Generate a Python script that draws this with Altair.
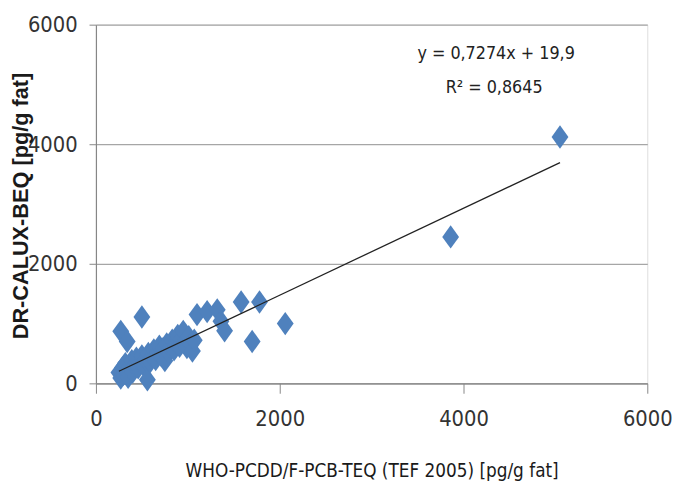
import altair as alt
import pandas as pd

# Measured values (pg/g fat)
teq_x = [250, 270, 290, 300, 320, 340, 350, 370, 390, 400, 420, 440, 460, 480,
         500, 520, 540, 560, 570, 590, 610, 630, 650, 670, 690, 710, 730, 750,
         770, 790, 810, 830, 850, 870, 890, 910, 930, 950, 970, 990, 1010, 1030,
         1050, 1070,
         270, 340, 500, 1100, 1210, 1320, 1360, 1400, 1580, 1780, 1700, 2060,
         3860, 5050]
calux_y = [180, 90, 260, 150, 330, 200, 100, 280, 380, 190, 300, 420, 260, 350,
           460, 300, 400, 60, 500, 360, 450, 560, 400, 520, 620, 470, 580, 380,
           660, 520, 600, 720, 560, 680, 800, 620, 740, 870, 700, 600, 780, 660,
           540, 720,
           870, 700, 1110, 1150, 1200, 1230, 1040, 880, 1360, 1360, 700, 1000,
           2450, 4120]

# Trendline from the chart's equation
slope = 0.7274
intercept = 19.9
trend_x = [min(teq_x), max(teq_x)]

eq_lines = ["y = 0,7274x + 19,9", "R\u00b2 = 0,8645"]

pts = pd.DataFrame({"x": teq_x, "y": calux_y})
trend = pd.DataFrame({"x": trend_x})

FONT = "DejaVu Sans Condensed, Liberation Sans Narrow, Lato, sans-serif"

xscale = alt.Scale(domain=[0, 6000], nice=False)
yscale = alt.Scale(domain=[0, 6000], nice=False)

points = alt.Chart(pts).mark_point(
    shape="M0,-1L0.72,0L0,1L-0.72,0Z", filled=True, size=560,
    color="#4F81BD", opacity=1
).encode(
    x=alt.X("x:Q", scale=xscale, axis=alt.Axis(
        values=[0, 2000, 4000, 6000], grid=False, format="d",
        title="WHO-PCDD/F-PCB-TEQ (TEF 2005) [pg/g fat]",
        titleFont=FONT, titleFontSize=19, titleFontWeight="normal",
        titleColor="#1a1a1a", titleY=88, titleBaseline="middle",
        labelFont=FONT, labelFontSize=22, labelColor="#333333",
        labelPadding=16, tickSize=10, tickColor="#868686",
        domainColor="#868686", domainWidth=1.2, labelFlush=False)),
    y=alt.Y("y:Q", scale=yscale, axis=alt.Axis(
        values=[0, 2000, 4000, 6000], grid=True, format="d",
        gridColor="#a6a6a6", gridWidth=1.3,
        title="DR-CALUX-BEQ [pg/g fat]",
        titleFont="Liberation Sans, Arial, sans-serif", titleFontSize=22,
        titleFontWeight="bold", titleColor="#1a1a1a",
        titleAngle=270, titleX=-76, titleY=183, titleAlign="center",
        titleBaseline="middle",
        labelFont=FONT, labelFontSize=22, labelColor="#333333",
        labelPadding=12, tickSize=7, tickColor="#868686",
        domainColor="#868686", domainWidth=1.2, labelFlush=False)),
)

line = alt.Chart(trend).transform_calculate(
    y=f"{slope} * datum.x + {intercept}"
).mark_line(color="#222222", strokeWidth=1.3).encode(
    x=alt.X("x:Q", scale=xscale),
    y=alt.Y("y:Q", scale=yscale),
)

t1 = alt.Chart(pd.DataFrame({"t": [eq_lines[0]]})).mark_text(
    font=FONT, fontSize=18, color="#222222", align="center", baseline="middle"
).encode(x=alt.value(405), y=alt.value(30), text="t:N")

t2 = alt.Chart(pd.DataFrame({"t": [eq_lines[1]]})).mark_text(
    font=FONT, fontSize=18, color="#222222", align="center", baseline="middle"
).encode(x=alt.value(403), y=alt.value(64), text="t:N")

chart = alt.layer(points, line, t1, t2).properties(
    width=558, height=363,
    autosize=alt.AutoSizeParams(type="none"),
    padding={"left": 89, "top": 14, "right": 25, "bottom": 100},
).configure_view(stroke=None).configure(background="white")

chart.save("out.html", embed_options={"renderer": "svg", "actions": False})
